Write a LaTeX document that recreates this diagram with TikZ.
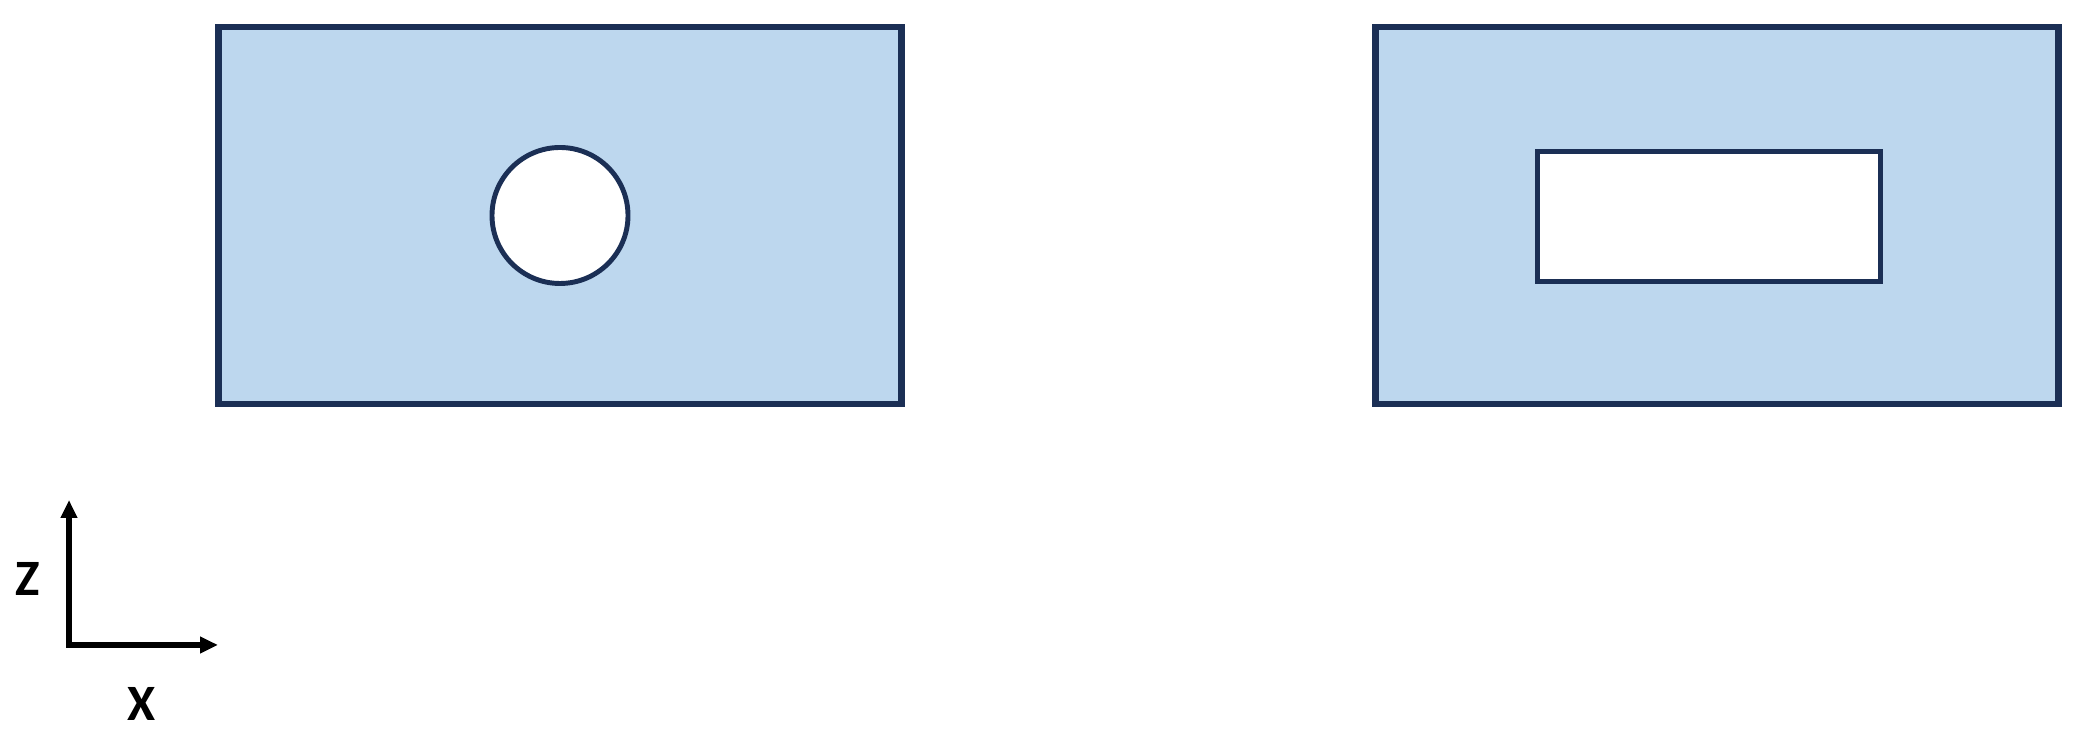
\documentclass[tikz,border=0pt]{standalone}
\usepackage{fontspec}
\setmainfont{Carlito}
\usetikzlibrary{shapes, arrows.meta, positioning}

\definecolor{plateblue}{HTML}{BDD7EE}
\definecolor{edgenavy}{HTML}{1B2F55}

\tikzset{
    plate/.style={draw=edgenavy, fill=plateblue, line width=1.75pt,
                  minimum width=6.83cm, minimum height=3.77cm, inner sep=0pt},
    hole/.style={draw=edgenavy, fill=white, line width=1.4pt, inner sep=0pt},
    axes/.style={line width=1.45pt, line join=miter,
                 {Triangle[length=0.18cm, width=0.16cm]}-{Triangle[length=0.18cm, width=0.16cm]}},
    axislabel/.style={font=\fontsize{14.5}{16}\selectfont\bfseries}
}

\begin{document}
\begin{tikzpicture}
    \useasboundingbox (0, 0) rectangle (20.84, 7.42);
    \node[plate] (leftplate)  at (5.60, 5.265) {};
    \node[plate] (rightplate) at (17.17, 5.265) {};
    \node[hole, circle, minimum size=1.36cm] (roundhole) at (leftplate.center) {};
    \node[hole, rectangle, minimum width=3.43cm, minimum height=1.30cm]
        (slothole) at (17.09, 5.255) {};
    \coordinate (origin) at (0.69, 0.97);
    \coordinate (ztip) at (0.69, 2.42);
    \coordinate (xtip) at (2.18, 0.97);
    \draw[axes] (ztip) -- (origin) -- (xtip);
    \node[axislabel] (zlabel) at (0.28, 1.63) {Z};
    \node[axislabel] (xlabel) at (1.42, 0.38) {X};
\end{tikzpicture}
\end{document}
